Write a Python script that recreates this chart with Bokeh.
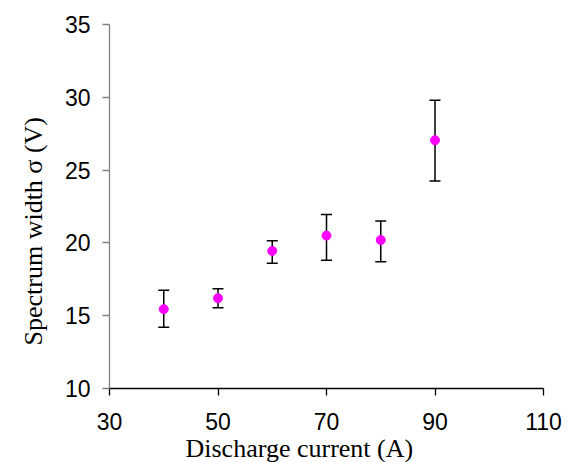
from bokeh.plotting import figure
from bokeh.models import ColumnDataSource, Whisker, TeeHead, FixedTicker, Range1d, Title
from bokeh.embed import file_html
from bokeh.resources import INLINE

# ---- data ----
current = [40, 50, 60, 70, 80, 90]
sigma = [15.45, 16.2, 19.45, 20.5, 20.2, 27.05]
sigma_upper = [16.75, 16.85, 20.15, 21.95, 21.5, 29.8]
sigma_lower = [14.2, 15.55, 18.6, 18.8, 18.7, 24.25]
x_ticks = [30, 50, 70, 90, 110]
y_ticks = [10, 15, 20, 25, 30, 35]
x_title = "Discharge current (A)"
y_title = "Spectrum width σ (V)"

W, H = 567, 462
L, R, T, B = 109, 24, 24, 74

p = figure(width=W, height=H, output_backend="svg", toolbar_location=None,
           x_range=Range1d(30, 110), y_range=Range1d(10, 35),
           min_border_left=L, min_border_right=R, min_border_top=T, min_border_bottom=B)
p.outline_line_color = None
p.xgrid.visible = False
p.ygrid.visible = False
p.background_fill_color = "white"
p.border_fill_color = "white"

# axes
p.xaxis.ticker = FixedTicker(ticks=x_ticks)
p.yaxis.ticker = FixedTicker(ticks=y_ticks)
for ax in (p.xaxis[0], p.yaxis[0]):
    ax.major_tick_in = 0
    ax.major_tick_out = 7
    ax.minor_tick_in = 0
    ax.minor_tick_out = 0
    ax.major_label_text_font = "Liberation Sans"
    ax.major_label_text_font_size = "23px"
    ax.major_label_text_color = "black"
    ax.axis_line_width = 1.3
    ax.major_tick_line_width = 1.3
p.xaxis.axis_line_color = "black"
p.xaxis.major_tick_line_color = "black"
p.yaxis.axis_line_color = "#808080"
p.yaxis.major_tick_line_color = "#808080"
p.xaxis.major_label_standoff = 17
p.yaxis.major_label_standoff = 12

# error bars
src = ColumnDataSource(dict(x=current, y=sigma, upper=sigma_upper, lower=sigma_lower))
w = Whisker(base="x", upper="upper", lower="lower", source=src, level="underlay",
            line_color="black", line_width=1.5,
            upper_head=TeeHead(size=11, line_color="black", line_width=1.5),
            lower_head=TeeHead(size=11, line_color="black", line_width=1.5))
p.add_layout(w)
p.scatter("x", "y", source=src, size=9, fill_color="#FF00FF", line_color="#FF00FF")

# axis titles
serif = "Liberation Serif"
p.add_layout(Title(text=x_title, align="left", offset=76, text_font=serif,
                   text_font_size="26px", text_font_style="normal", text_color="black",
                   vertical_align="bottom", standoff=-2), "below")
p.add_layout(Title(text=y_title, align="left", offset=43, text_font=serif,
                   text_font_size="26px", text_font_style="normal", text_color="black",
                   vertical_align="bottom", standoff=28), "left")

open("out.html", "w").write(file_html(p, INLINE))
